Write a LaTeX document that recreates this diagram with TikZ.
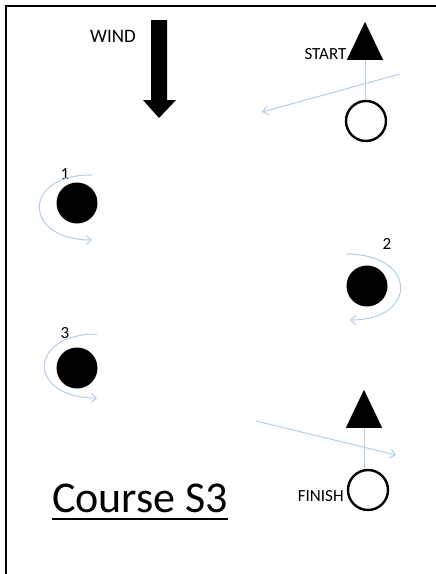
\documentclass[tikz,border=0pt]{standalone}
\usepackage{fontspec}
\setmainfont{Carlito}
\usetikzlibrary{arrows.meta,positioning,shapes.geometric}
\definecolor{track}{HTML}{B4CDE8}
\definecolor{ink}{HTML}{000000}

\begin{document}
\begin{tikzpicture}[x=1pt, y=-1pt,
  buoy/.style={circle, fill=ink, minimum size=41pt, inner sep=0pt},
  ring/.style={circle, draw=ink, line width=2.4pt, minimum size=40pt, inner sep=0pt},
  flag/.style={isosceles triangle, isosceles triangle apex angle=51, shape border rotate=90, fill=ink, inner sep=0pt, minimum height=38pt, anchor=lower side},
  lbl/.style={inner sep=0pt, font=\fontsize{17}{17}\selectfont},
  trk/.style={draw=track, line width=1pt},
  trkarr/.style={trk, -{Straight Barb[length=5pt, width=9pt]}}]
\useasboundingbox (0,0) rectangle (436,574);
% frame
\draw[line width=2pt] (6,574) -- (6,6) -- (436,6);
% wind
\fill[ink] (151,20) -- (167,20) -- (167,100) -- (176,100) -- (159,118) -- (143,100) -- (151,100) -- cycle;
\node[inner sep=0pt, font=\fontsize{19}{19}\selectfont] (wind) at (113,36) {WIND};
% start line
\node[flag] (stri) at (365,60) {};
\node[ring] (scirc) at (366,121) {};
\node[lbl, anchor=east] (start) at ([yshift=6pt]stri.left corner) {START};
\coordinate (s1) at (400,74);
\coordinate (s2) at (262,112);
\draw[trk] (stri.lower side) -- (stri.lower side |- scirc.north);
\draw[trkarr] (s1) -- (s2);
% marks
\node[buoy] (m1) at (77,203) {};
\node[buoy] (m2) at (367,286) {};
\node[buoy] (m3) at (77,368) {};
\node[lbl] (n1) at (65,174) {1};
\node[lbl] (n2) at (387,244) {2};
\node[lbl] (n3) at (65,333) {3};
\draw[trkarr] (92,175) .. controls (22,174) and (22,240) .. (92,240);
\draw[trkarr] (346,254) .. controls (418,254) and (418,320) .. (350,320);
\draw[trkarr] (97,334) .. controls (27,334) and (27,398) .. (97,398);
% finish line
\node[flag] (ftri) at (364,428) {};
\node[ring] (fcirc) at (368,490) {};
\node[lbl, anchor=east] (finish) at ([xshift=-3pt, yshift=-6pt]fcirc.west) {FINISH};
\coordinate (f1) at (256,421);
\coordinate (f2) at (396,455);
\draw[trk] (ftri.lower side) -- (ftri.lower side |- fcirc.north);
\draw[trkarr] (f1) -- (f2);
% title
\node[inner sep=0pt, anchor=base west, font=\fontsize{44}{44}\selectfont] (course) at (52,512) {Course S3};
\draw[line width=2pt] ([yshift=-7pt]course.base west) -- ([yshift=-7pt]course.base east);
\end{tikzpicture}
\end{document}
